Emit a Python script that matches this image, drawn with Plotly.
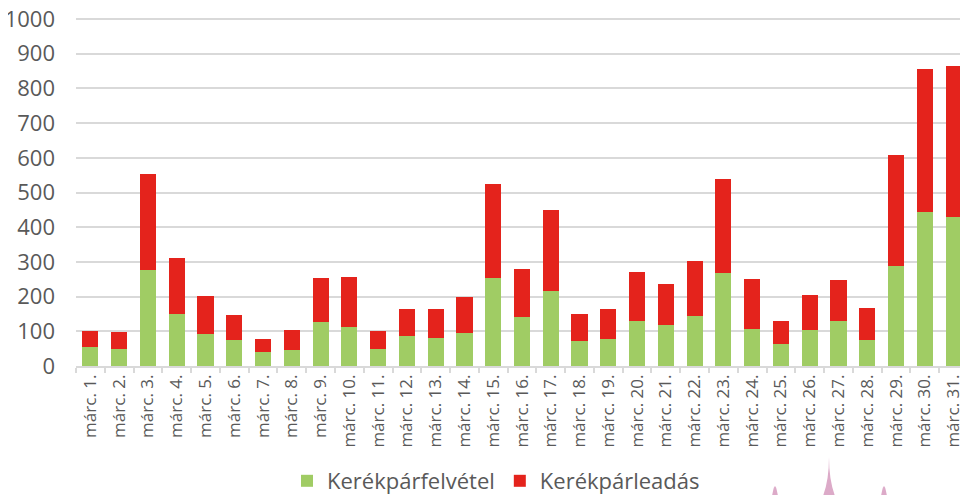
import plotly.graph_objects as go

days = [f"márc. {i}." for i in range(1, 32)]
felvetel = [54, 49, 277, 149, 93, 74, 40, 45, 127, 112, 49, 87, 81, 95, 255, 140,
            217, 73, 78, 130, 119, 145, 267, 107, 62, 104, 130, 75, 288, 443, 430]
totals = [101, 98, 554, 311, 201, 147, 77, 103, 253, 256, 101, 164, 164, 199, 524, 279,
          450, 149, 163, 272, 237, 302, 538, 252, 130, 205, 249, 166, 608, 857, 864]
leadas = [t - f for t, f in zip(totals, felvetel)]
y_ticks = list(range(0, 1001, 100))

GREEN = "#a0cc64"
RED = "#e4231c"
TEXT = "#595959"
FONT = "Open Sans"

# page body has an 8px margin, so the figure is laid out 8px smaller/shifted
W, H = 960, 487
L, T, B = 68, 10, 358
PW, PH = W - L, B - T

fig = go.Figure()
fig.add_trace(go.Bar(x=days, y=felvetel, name="Kerékpárfelvétel",
                     marker=dict(color=GREEN, line=dict(width=0))))
fig.add_trace(go.Bar(x=days, y=leadas, name="Kerékpárleadás",
                     marker=dict(color=RED, line=dict(width=0))))

fig.update_layout(
    barmode="stack",
    bargap=0.44,
    width=W, height=H,
    margin=dict(l=L, r=0, t=T, b=H - B, pad=0, autoexpand=False),
    plot_bgcolor="white", paper_bgcolor="white",
    font=dict(family=FONT, color=TEXT),
    showlegend=True,
    legend=dict(orientation="h", xref="container", yref="container",
                x=488 / W, xanchor="center",
                y=1 - 473 / H, yanchor="middle",
                font=dict(size=22, color=TEXT, family=FONT), itemwidth=30,
                traceorder="normal"),
    xaxis=dict(type="category", tickangle=-90, tickfont=dict(size=17, color=TEXT),
               showgrid=False, showline=True, linecolor="#d9d9d9", linewidth=1.5,
               ticks="outside", tickson="boundaries", ticklen=5, tickcolor="#d9d9d9",
               tickwidth=1.5, range=[-0.5, 30.5], automargin=False),
    yaxis=dict(range=[0, 1003], tickvals=y_ticks, tickfont=dict(size=22, color=TEXT),
               showgrid=True, gridcolor="#d9d9d9", gridwidth=1.5, zeroline=False,
               showline=False, ticks="", ticklabelstandoff=20, automargin=False,
               ticklabeloverflow="allow"),
)

# decorative pink spikes at bottom right (reference pixel positions)
spikes = [(775, 490, 3), (829, 457, 6), (884, 490, 3)]
for cx, tip, hw in spikes:
    fx = lambda px: (px - 8 - L) / PW
    fy = lambda py: (B - (py - 8)) / PH
    x0, x1, xc = fx(cx - hw), fx(cx + hw), fx(cx)
    yb, yt = fy(496), fy(tip)
    ym = fy(480)
    fig.add_shape(type="path", xref="paper", yref="paper",
                  path=f"M {x0} {yb} Q {xc} {ym} {xc} {yt} Q {xc} {ym} {x1} {yb} Z",
                  fillcolor="#dcaac8", line=dict(width=0), layer="above")

fig.write_html("out.html")
